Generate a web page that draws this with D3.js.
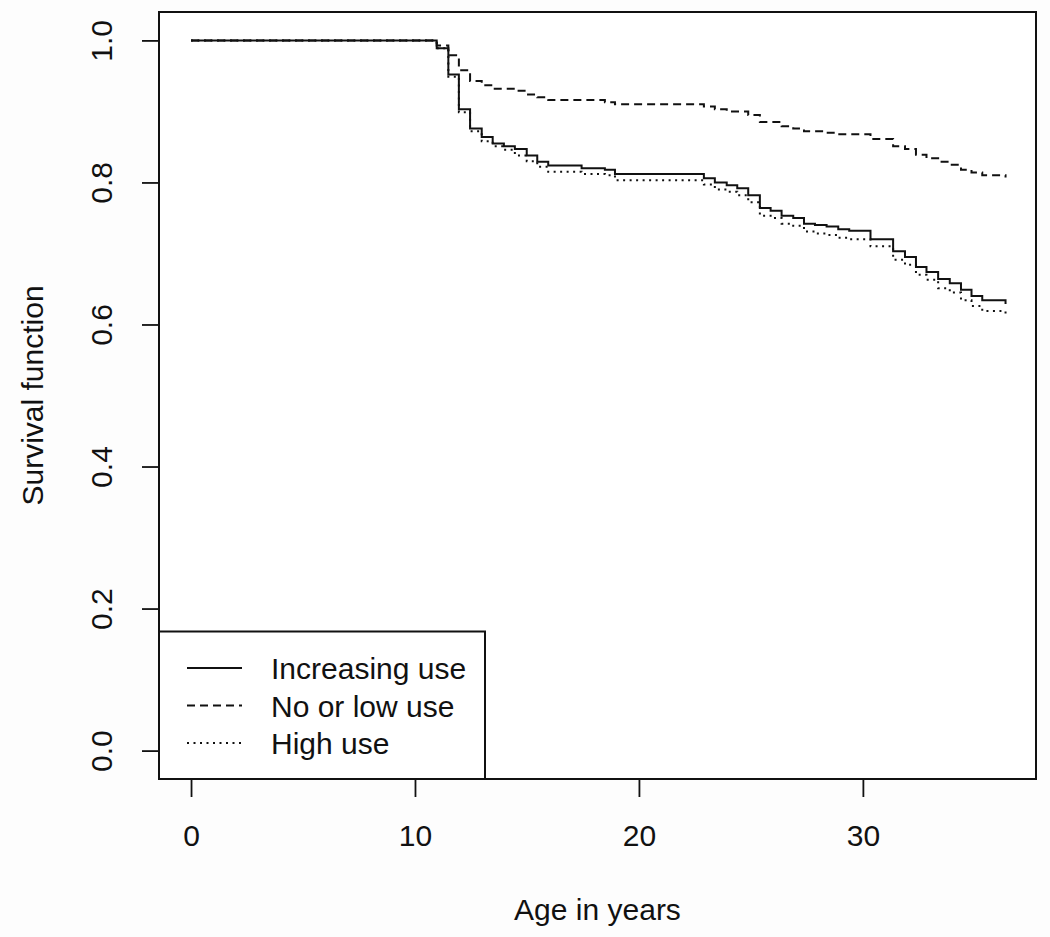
<!DOCTYPE html>
<html>
<head>
<meta charset="utf-8">
<script src="https://cdn.jsdelivr.net/npm/d3@7"></script>
<style>
  body { margin: 0; background: #fdfdfd; }
  text { font-family: "Liberation Sans", Arial, sans-serif; fill: #111; }
</style>
</head>
<body>
<div id="graph"></div>
<script>
// Kaplan-Meier step curves (age in years, survival)
let ages = [0, 10.97, 11.49, 11.96, 12.46, 12.98, 13.47, 13.97, 14.46, 14.99, 15.46, 15.95, 17.44, 18.48, 18.93,
            22.9, 23.39, 23.92, 24.39, 24.88, 25.4, 25.88, 26.37, 26.89, 27.37, 27.86, 28.38, 28.9, 29.39,
            30.34, 31.35, 31.88, 32.37, 32.84, 33.36, 33.88, 34.38, 34.85, 35.33, 36.37];

let survIncreasing = [1.0, 0.989, 0.952, 0.903, 0.876, 0.864, 0.855, 0.851, 0.847, 0.838, 0.829, 0.824, 0.820, 0.818, 0.812,
                      0.806, 0.800, 0.796, 0.792, 0.782, 0.764, 0.760, 0.753, 0.750, 0.742, 0.740, 0.738, 0.734, 0.732,
                      0.720, 0.703, 0.695, 0.681, 0.674, 0.664, 0.658, 0.649, 0.640, 0.634, 0.629];

let survNoLow = [1.0, 0.993, 0.979, 0.958, 0.943, 0.937, 0.932, 0.932, 0.929, 0.924, 0.920, 0.916, 0.916, 0.913, 0.910,
                 0.907, 0.903, 0.900, 0.900, 0.895, 0.885, 0.885, 0.879, 0.876, 0.872, 0.872, 0.870, 0.868, 0.868,
                 0.861, 0.851, 0.847, 0.839, 0.834, 0.829, 0.825, 0.818, 0.814, 0.810, 0.807];

let survHigh = [1.0, 0.989, 0.949, 0.899, 0.872, 0.858, 0.851, 0.846, 0.838, 0.830, 0.822, 0.815, 0.812, 0.810, 0.803,
                0.797, 0.790, 0.787, 0.782, 0.772, 0.753, 0.750, 0.742, 0.739, 0.731, 0.728, 0.726, 0.722, 0.720,
                0.710, 0.691, 0.684, 0.670, 0.663, 0.651, 0.645, 0.634, 0.626, 0.619, 0.615];

let groupNames = ["Increasing use", "No or low use", "High use"];
let xTicks = [0, 10, 20, 30];
let yTicks = [0, 0.2, 0.4, 0.6, 0.8, 1.0];

let largeurTotale = 1050,
    hauteurTotale = 937;

// box of the plot region
let boite = {gauche: 159, droite: 1036, haut: 12, bas: 779};

let echelleX = d3.scaleLinear()
    .domain([-1.43, 37.73])
    .range([boite.gauche, boite.droite]);

let echelleY = d3.scaleLinear()
    .domain([-0.04, 1.04])
    .range([boite.bas, boite.haut]);

let styles = ["none", "8,5", "2,4.5"];

let svg = d3.select("#graph").append("svg")
    .attr("width", largeurTotale)
    .attr("height", hauteurTotale);

svg.append("rect")
    .attr("x", boite.gauche).attr("y", boite.haut)
    .attr("width", boite.droite - boite.gauche)
    .attr("height", boite.bas - boite.haut)
    .attr("fill", "#fff");

// curves
let series = [survIncreasing, survNoLow, survHigh];
let ligne = d3.line()
    .x(function(d) { return echelleX(d[0]); })
    .y(function(d) { return echelleY(d[1]); })
    .curve(d3.curveStepAfter);

series.forEach(function(s, i) {
  svg.append("path")
      .datum(ages.map(function(a, j) { return [a, s[j]]; }))
      .attr("d", ligne)
      .attr("fill", "none")
      .attr("stroke", "#111")
      .attr("stroke-width", 2)
      .attr("stroke-dasharray", styles[i]);
});

// axes
let axeX = d3.axisBottom(echelleX).tickValues(xTicks).tickSize(18).tickFormat(d3.format("d"));
let gx = svg.append("g")
    .attr("transform", "translate(0," + boite.bas + ")")
    .call(axeX);
gx.select(".domain").remove();
gx.selectAll("line").attr("stroke", "#111").attr("stroke-width", 1.8);
gx.selectAll("text").attr("y", 67).attr("dy", 0).style("font-size", "30px");

let axeY = d3.axisLeft(echelleY).tickValues(yTicks).tickSize(17).tickFormat(d3.format(".1f"));
let gy = svg.append("g")
    .attr("transform", "translate(" + boite.gauche + ",0)")
    .call(axeY);
gy.select(".domain").remove();
gy.selectAll("line").attr("stroke", "#111").attr("stroke-width", 1.8);
gy.selectAll("text")
    .attr("x", 0).attr("dy", 0)
    .attr("transform", "translate(-47,0) rotate(-90)")
    .attr("text-anchor", "middle")
    .style("font-size", "30px");

// box
svg.append("rect")
    .attr("x", boite.gauche).attr("y", boite.haut)
    .attr("width", boite.droite - boite.gauche)
    .attr("height", boite.bas - boite.haut)
    .attr("fill", "none")
    .attr("stroke", "#111")
    .attr("stroke-width", 2);

// axis titles
svg.append("text")
    .attr("x", (boite.gauche + boite.droite) / 2)
    .attr("y", 920)
    .attr("text-anchor", "middle")
    .style("font-size", "30px")
    .text("Age in years");

svg.append("text")
    .attr("transform", "translate(43," + (boite.haut + boite.bas) / 2 + ") rotate(-90)")
    .attr("text-anchor", "middle")
    .style("font-size", "30px")
    .text("Survival function");

// legend
let legende = svg.append("g");
legende.append("rect")
    .attr("x", boite.gauche).attr("y", 631.5)
    .attr("width", 485 - boite.gauche)
    .attr("height", boite.bas - 631.5)
    .attr("fill", "#fff")
    .attr("stroke", "#111")
    .attr("stroke-width", 2);

groupNames.forEach(function(nom, i) {
  let yl = 668 + i * 37.5;
  legende.append("line")
      .attr("x1", 187).attr("x2", 242)
      .attr("y1", yl).attr("y2", yl)
      .attr("stroke", "#111")
      .attr("stroke-width", 2)
      .attr("stroke-dasharray", styles[i]);
  legende.append("text")
      .attr("x", 271)
      .attr("y", yl + 11)
      .style("font-size", "30px")
      .text(nom);
});
</script>
</body>
</html>
